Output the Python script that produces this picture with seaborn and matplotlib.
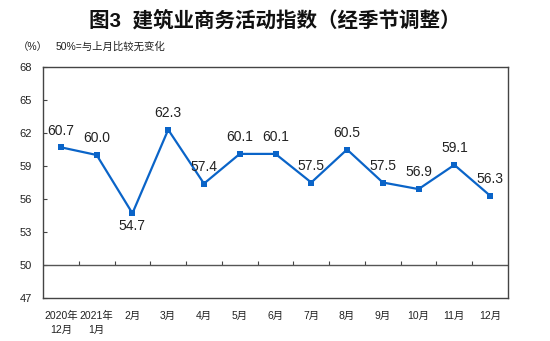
import matplotlib
matplotlib.use("Agg")
import matplotlib.pyplot as plt
import seaborn as sns
import numpy as np

categories = ["2020年\n12月", "2021年\n1月", "2月", "3月", "4月", "5月", "6月",
              "7月", "8月", "9月", "10月", "11月", "12月"]
values = [60.7, 60.0, 54.7, 62.3, 57.4, 60.1, 60.1, 57.5, 60.5, 57.5, 56.9, 59.1, 56.3]
y_ticks = [47, 50, 53, 56, 59, 62, 65, 68]
label_below = [False, False, True, False, False, False, False, False, False, False, False, False, False]

sns.set_theme(style="white")
plt.rcParams['font.family'] = ['Liberation Sans', 'Noto Sans CJK SC', 'DejaVu Sans']

fig = plt.figure(figsize=(5.5, 3.41), dpi=100)
ax = fig.add_axes([43/550, 43/341, 465/550, 231/341])

x = np.arange(len(values))
line_color = "#0A64C8"
sns.lineplot(x=x, y=values, ax=ax, color=line_color, linewidth=1.6,
             marker="s", markersize=5, markeredgewidth=0, markerfacecolor=line_color)

for xi, v, below in zip(x, values, label_below):
    ax.annotate(f"{v:.1f}", (xi, v), textcoords="offset points",
                xytext=(0, -9 if below else 12), ha="center", va="center",
                fontsize=10, color="#222222")

ax.axhline(50, color="#555555", linewidth=1.0, zorder=1)

ax.set_xlim(-0.5, len(values) - 0.5)
ax.set_ylim(47, 68)
ax.set_yticks(y_ticks)
ax.set_yticklabels([str(t) for t in y_ticks], fontsize=8, color="#222222")
ax.set_xticks(x)
ax.set_xticklabels(categories, fontsize=7.5, color="#222222", linespacing=1.5)
ax.tick_params(axis="x", length=0, pad=9)
ax.tick_params(axis="y", direction="in", length=3, width=0.8, pad=8, color="#444444", left=True)

for s in ax.spines.values():
    s.set_color("#444444")
    s.set_linewidth(1.0)

sec = ax.secondary_xaxis(3/21)
sec.set_xticks(np.arange(0.5, len(values) - 1, 1.0))
sec.set_xticklabels([])
sec.tick_params(axis="x", direction="in", length=3, width=0.8, color="#444444")
sec.spines["bottom"].set_visible(False)

ax.set_xlabel("")
ax.set_ylabel("")

fig.text(0.5, 0.94, "图3  建筑业商务活动指数（经季节调整）", ha="center", va="center",
         fontsize=14.8, fontweight="bold", color="#111111")
fig.text(18/550, 1 - 47/341, "（%）", ha="left", va="center", fontsize=7.5, color="#222222")
fig.text(56/550, 1 - 47/341, "50%=与上月比较无变化", ha="left", va="center", fontsize=7.5, color="#222222")

fig.savefig("out.png", dpi=100)
